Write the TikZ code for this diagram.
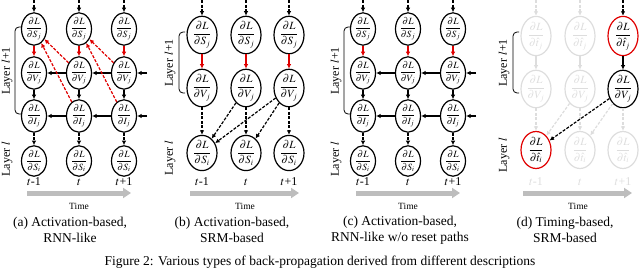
\documentclass[tikz,border=0pt]{standalone}
\usepackage{mathptmx}
\usepackage{fontspec}
\setmainfont{Liberation Serif}
\usetikzlibrary{arrows.meta, positioning, shapes.geometric, calc}
\definecolor{cred}{HTML}{E00000}
\definecolor{cgrey}{HTML}{BDBDBD}
\definecolor{cfade}{HTML}{DDDDDD}
\tikzset{
  every picture/.style={line width=1.1pt},
  grad/.style={ellipse, draw, line width=1.2pt, inner sep=0pt},
  gsmall/.style={grad, minimum width=25pt, minimum height=29pt, font=\fontsize{9.5}{10}\selectfont},
  glarge/.style={grad, minimum width=30pt, minimum height=33pt, font=\fontsize{11}{12}\selectfont},
  flow/.style={-{Latex[length=4.5pt,width=4.5pt]}, line width=1.2pt},
  spike/.style={flow, dash pattern=on 3pt off 1.5pt},
  resetflow/.style={flow, color=cred},
  resetspike/.style={spike, color=cred},
  faded/.style={color=cfade},
  timearr/.style={-{Triangle[length=8pt,width=10pt]}, draw=cgrey, fill=cgrey, line width=5pt},
  layerlab/.style={rotate=90, font=\fontsize{12}{12}\selectfont},
  steplab/.style={font=\fontsize{12}{12}\selectfont},
  timelab/.style={font=\fontsize{9.5}{10}\selectfont},
  subcap/.style={align=center, font=\fontsize{13.5}{16}\selectfont},
}
\newcommand{\gradof}[1]{$\displaystyle\frac{\partial L}{\partial #1}$}
\newcommand{\hatgrad}[1]{$\displaystyle\frac{\partial L}{\rule{0pt}{10pt}\partial{\hat{t}}_{#1}}$}
\newcommand{\layerbrace}[3]{\draw[line width=0.8pt, rounded corners=4pt] ({#1+6},#2) -- (#1,#2) -- (#1,#3) -- ({#1+6},#3);}

\begin{document}
\begin{tikzpicture}[x=1pt, y=-1pt]
  \useasboundingbox (0,0) rectangle (640,273);
  % activation-based grids (a) and (c)
  \foreach \p/\sh in {a/0, c/329}{
    \begin{scope}[xshift=\sh pt]
    \foreach \x/\lab [count=\c] in {34/{$t$-1}, 79/$t$, 124/{$t$+1}}{
      \node[gsmall] (\p-sj\c) at (\x,29) {\gradof{S_j}};
      \node[gsmall] (\p-vj\c) at (\x,73) {\gradof{V_j}};
      \node[gsmall] (\p-ij\c) at (\x,116) {\gradof{I_j}};
      \node[gsmall] (\p-si\c) at (\x,161) {\gradof{S_i}};
      \node[steplab] (\p-t\c) at (\x,182) {\lab};
      \coordinate (\p-top\c) at (\x,0);
      \draw[spike] (\p-top\c) -- (\p-sj\c);
      \draw[resetflow] (\p-sj\c) -- (\p-vj\c);
      \draw[flow] (\p-vj\c) -- (\p-ij\c);
      \draw[spike] (\p-ij\c) -- (\p-si\c);
    }
    \foreach \c/\n in {1/2, 2/3}{
      \draw[flow] (\p-vj\n) -- (\p-vj\c);
      \draw[flow] (\p-ij\n) -- (\p-ij\c);
    }
    \coordinate (\p-rv) at (147,73);
    \coordinate (\p-ri) at (147,116);
    \draw[flow] (\p-rv) -- (\p-vj3);
    \draw[flow] (\p-ri) -- (\p-ij3);
    \layerbrace{15}{27}{114}
    \node[layerlab] (\p-up) at (7,71) {Layer $l$+1};
    \node[layerlab] (\p-low) at (7,159) {Layer $l$};
    \coordinate (\p-ts) at (27,193);
    \coordinate (\p-te) at (131,193);
    \draw[timearr] (\p-ts) -- (\p-te);
    \node[timelab] (\p-time) at (79,206) {Time};
    \end{scope}
  }
  % reset paths of (a)
  \draw[resetspike] (a-vj2) -- (a-sj1);
  \draw[resetspike] (a-ij2) -- (a-sj1);
  \draw[resetspike] (a-vj3) -- (a-sj2);
  \draw[resetspike] (a-ij3) -- (a-sj2);
  % SRM-based (b)
  \foreach \x/\lab [count=\c] in {202/{$t$-1}, 246/$t$, 289/{$t$+1}}{
    \node[glarge] (b-sj\c) at (\x,35) {\gradof{S_j}};
    \node[glarge] (b-vj\c) at (\x,88) {\gradof{V_j}};
    \node[glarge] (b-si\c) at (\x,153) {\gradof{S_i}};
    \node[steplab] (b-t\c) at (\x,182) {\lab};
    \coordinate (b-top\c) at (\x,0);
    \draw[spike] (b-top\c) -- (b-sj\c);
    \draw[resetflow] (b-sj\c) -- (b-vj\c);
    \draw[spike] (b-vj\c) -- (b-si\c);
  }
  \draw[spike] (b-vj2) -- (b-si1);
  \draw[spike] (b-vj3) -- (b-si1);
  \draw[spike] (b-vj3) -- (b-si2);
  \layerbrace{179}{32}{93}
  \node[layerlab] (b-up) at (170,63) {Layer $l$+1};
  \node[layerlab] (b-low) at (170,158) {Layer $l$};
  \coordinate (b-ts) at (190,193);
  \coordinate (b-te) at (299,193);
  \draw[timearr] (b-ts) -- (b-te);
  \node[timelab] (b-time) at (245,206) {Time};
  % timing-based (d)
  \foreach \x/\lab [count=\c] in {536/{$t$-1}, 580/$t$, 623/{$t$+1}}{
    \coordinate (d-top\c) at (\x,0);
    \node[steplab, text=cfade] (d-t\c) at (\x,182) {\lab};
  }
  \foreach \c in {1,2}{
    \node[glarge, faded] (d-tj\c) at ($(d-top\c)+(0,36)$) {\hatgrad{j}};
    \node[glarge, faded] (d-vj\c) at ($(d-top\c)+(0,89)$) {\gradof{V_j}};
  }
  \node[glarge, draw=cred] (d-tj3) at (623,36) {\hatgrad{j}};
  \node[glarge] (d-vj3) at (623,89) {\gradof{V_j}};
  \node[glarge, draw=cred] (d-si1) at (536,150) {\hatgrad{i}};
  \node[glarge, faded] (d-si2) at (580,150) {\hatgrad{i}};
  \node[glarge, faded] (d-si3) at (623,150) {\hatgrad{i}};
  \foreach \c in {1,2}{
    \draw[spike, faded] (d-top\c) -- (d-tj\c);
    \draw[flow, faded] (d-tj\c) -- (d-vj\c);
  }
  \foreach \c in {1,2,3}{
    \draw[spike, faded] (d-vj\c) -- (d-si\c);
  }
  \draw[spike, faded] (d-vj2) -- (d-si1);
  \draw[spike, faded] (d-vj3) -- (d-si2);
  \draw[spike] (d-top3) -- (d-tj3);
  \draw[flow] (d-tj3) -- (d-vj3);
  \draw[spike] (d-vj3) -- (d-si1);
  \layerbrace{513}{32}{93}
  \node[layerlab] (d-up) at (504,63) {Layer $l$+1};
  \node[layerlab] (d-low) at (504,155) {Layer $l$};
  \coordinate (d-ts) at (523,193);
  \coordinate (d-te) at (632,193);
  \draw[timearr] (d-ts) -- (d-te);
  \node[timelab] (d-time) at (578,206) {Time};
  % captions
  \node[subcap] (a-cap) at (70,230) {(a) Activation-based,\\RNN-like};
  \node[subcap] (b-cap) at (232,230) {(b) Activation-based,\\SRM-based};
  \node[subcap] (c-cap) at (400,230) {(c) Activation-based,\\RNN-like w/o reset paths};
  \node[subcap] (d-cap) at (565,230) {(d) Timing-based,\\SRM-based};
  \node[subcap] (fig-cap) at (320,262) {Figure 2: Various types of back-propagation derived from different descriptions};
\end{tikzpicture}
\end{document}
